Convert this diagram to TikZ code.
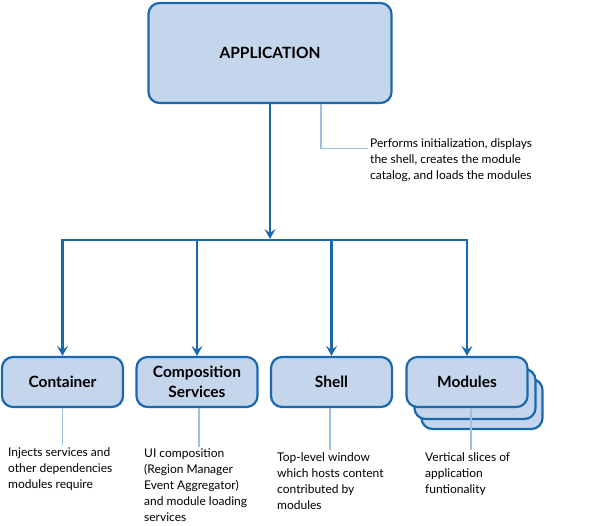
\documentclass[tikz,border=0pt]{standalone}
\usepackage{fontspec}
\setmainfont{Lato}
\usepackage{tikz}
\usetikzlibrary{arrows.meta}
\definecolor{boxfill}{HTML}{C5D5EB}
\definecolor{boxline}{HTML}{1A68AE}
\definecolor{noteline}{HTML}{9DBFE3}
\tikzstyle{part}=[draw=boxline,fill=boxfill,line width=2.2pt,rounded corners=11pt,minimum width=121pt,minimum height=50pt,align=center,font=\fontsize{15.5}{20}\selectfont\bfseries]
\tikzstyle{note}=[anchor=north west,align=left,inner sep=2pt,font=\fontsize{12}{16}\selectfont]
\tikzstyle{flow}=[draw=boxline,line width=2.6pt,-{Stealth[length=10pt,width=11pt,inset=4pt]}]
\tikzstyle{callout}=[draw=noteline,line width=1.4pt]

\begin{document}
\begin{tikzpicture}[x=1pt,y=-1pt]
  \useasboundingbox (0,0) rectangle (600,526);
  % boxes
  \node [part,minimum width=243pt,minimum height=100pt] (app) at (270,53) {APPLICATION};
  \node [part] (container) at (62.5,382) {Container};
  \node [part] (compose) at (197,382) {Composition\\Services};
  \node [part] (shell) at (331.5,382) {Shell};
  \node [part] (modback) at (482,404) {};
  \node [part] (modmid) at (475,394) {};
  \node [part] (modules) at (467,382) {Modules};
  % notes
  \node [note] (initnote) at (368,136) {Performs initialization, displays\\the shell, creates the module\\catalog, and loads the modules};
  \node [note] (contnote) at (6,445) {Injects services and\\other dependencies\\modules require};
  \node [note] (compnote) at (142,447) {UI composition\\(Region Manager\\Event Aggregator)\\and module loading\\services};
  \node [note] (shellnote) at (275,450) {Top-level window\\which hosts content\\contributed by\\modules};
  \node [note] (modnote) at (423,450) {Vertical slices of\\application\\funtionality};
  % arrows
  \coordinate (hub) at (270,240);
  \draw [flow,shorten >=1pt] (app.south) -- (hub);
  \draw [flow] (hub) -| (container.north);
  \draw [flow] (hub) -| (modules.north);
  \draw [flow] (hub -| compose.north) -- (compose.north);
  \draw [flow] (hub -| shell.north) -- (shell.north);
  % callouts
  \draw [callout] ([xshift=51pt]app.south) |- ([yshift=11pt]initnote.west);
  \draw [callout] (container.south) -- (container.south |- contnote.north);
  \draw [callout] ([xshift=2pt]compose.south) -- ([xshift=2pt]compose.south |- compnote.north);
  \draw [callout] ([xshift=-1.5pt]shell.south) -- ([xshift=-1.5pt]shell.south |- shellnote.north);
  \draw [callout] ([xshift=4pt]modules.south) -- ([xshift=4pt]modules.south |- modnote.north);
\end{tikzpicture}
\end{document}
